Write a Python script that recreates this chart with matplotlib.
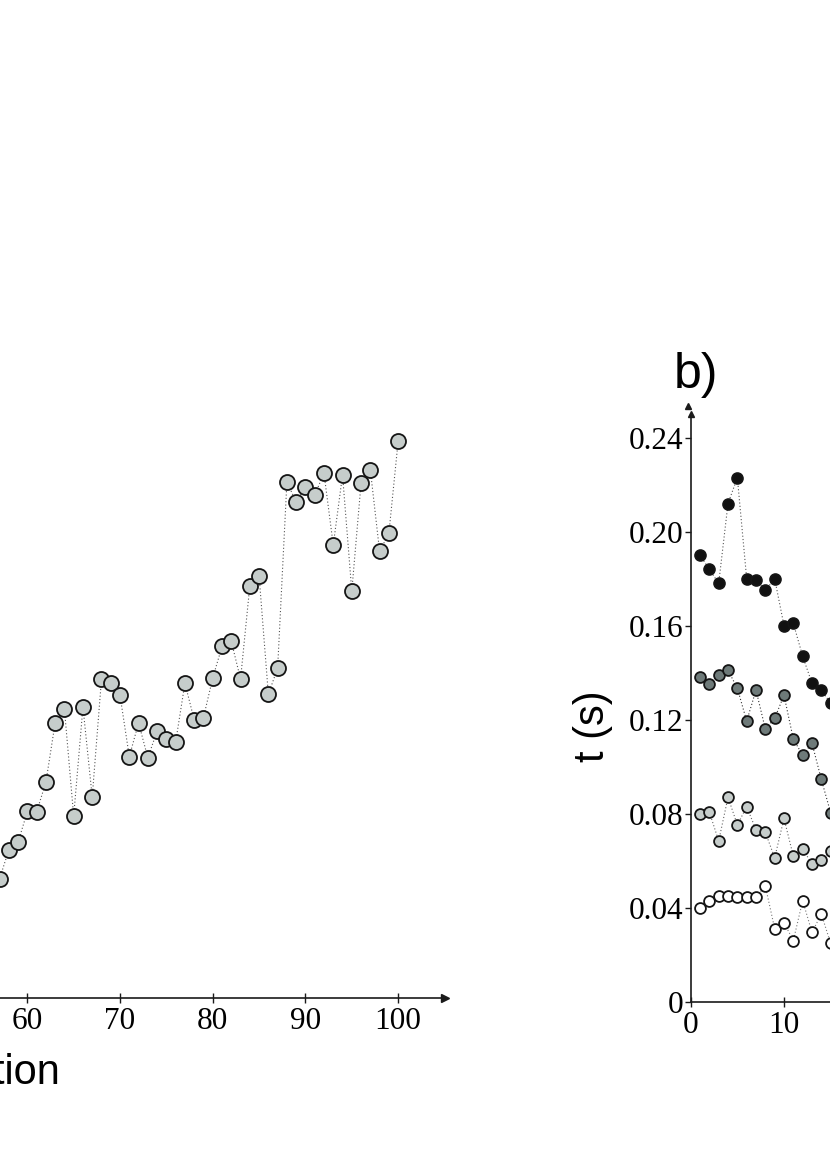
import matplotlib.pyplot as plt
import numpy as np

# left panel (only the right part is visible)
gen = list(range(57, 101))
fit = [0.204, 0.254, 0.267, 0.320, 0.319, 0.370, 0.472, 0.496, 0.312, 0.499,
       0.345, 0.547, 0.540, 0.519, 0.414, 0.472, 0.412, 0.458, 0.445, 0.439,
       0.540, 0.477, 0.481, 0.549, 0.603, 0.612, 0.547, 0.707, 0.724, 0.521,
       0.566, 0.885, 0.851, 0.876, 0.863, 0.900, 0.777, 0.897, 0.698, 0.883,
       0.906, 0.766, 0.797, 0.955]

# right panel b)
n = list(range(1, 16))
t_black = [0.190, 0.184, 0.178, 0.212, 0.223, 0.180, 0.1795, 0.175, 0.180, 0.160,
           0.161, 0.147, 0.1355, 0.1326, 0.127]
t_dark = [0.138, 0.135, 0.139, 0.141, 0.1334, 0.1194, 0.1326, 0.116, 0.1206, 0.1304,
          0.1117, 0.1049, 0.110, 0.0946, 0.0804]
t_light = [0.0799, 0.0807, 0.0684, 0.087, 0.0752, 0.083, 0.0731, 0.0721, 0.0612, 0.078,
           0.0619, 0.0651, 0.0585, 0.0602, 0.0641]
t_white = [0.0397, 0.0428, 0.045, 0.045, 0.0447, 0.0447, 0.0447, 0.0492, 0.0311, 0.0336,
           0.026, 0.043, 0.0295, 0.0373, 0.0248]

xticks = [0, 10, 20, 30, 40, 50, 60, 70, 80, 90, 100]
yticks_b = [0, 0.04, 0.08, 0.12, 0.16, 0.20, 0.24]
ytick_labels_b = ["0", "0.04", "0.08", "0.12", "0.16", "0.20", "0.24"]

W, H = 830, 1174
fig = plt.figure(figsize=(W / 100, H / 100), dpi=100)

serif = "Liberation Serif"
sans = "Liberation Sans"
edge = "#151515"

def style(ax):
    for s in ["top", "right"]:
        ax.spines[s].set_visible(False)
    for s in ["left", "bottom"]:
        ax.spines[s].set_linewidth(1.2)
        ax.spines[s].set_color("#1a1a1a")
    ax.tick_params(axis="x", direction="inout", length=7, width=1.0, pad=3,
                   labelsize=22.5, color="#1a1a1a")
    ax.tick_params(axis="y", direction="out", length=4, width=1.0, pad=1,
                   labelsize=22.5, color="#1a1a1a")
    for lab in ax.get_xticklabels() + ax.get_yticklabels():
        lab.set_fontfamily(serif)

# left axes (extends past the left edge of the crop)
axL = fig.add_axes([-528.9 / W, (H - 998) / H, 973.4 / W, 583 / H])
axL.plot(gen, fit, linestyle=(0, (1, 2)), color="#555555", linewidth=0.8, zorder=1)
axL.plot(gen, fit, linestyle="none", marker="o", markersize=10.8,
         markerfacecolor="#c6cdcb", markeredgecolor=edge, markeredgewidth=1.3, zorder=2)
axL.set_xlim(0, 105)
axL.set_ylim(0, 1)
axL.set_xticks(xticks)
axL.set_yticks([])
axL.spines["left"].set_visible(False)
style(axL)
axL.plot([1], [0], marker=">", markersize=6, color="#1a1a1a",
         transform=axL.transAxes, clip_on=False)
fig.text(61 / W, (H - 1073) / H, "Generation", ha="right", va="center",
         fontsize=30, family=sans)

# right axes (extends past the right edge)
axR = fig.add_axes([690.7 / W, (H - 1001.7) / H, 979.7 / W, 587.5 / H])
for ys, fc, lc in [(t_black, "#111111", "#555555"), (t_dark, "#6e7a79", "#333333"),
                   (t_light, "#c6cdcb", "#666666"), (t_white, "#ffffff", "#777777")]:
    axR.plot(n, ys, linestyle=(0, (1, 2)), color=lc, linewidth=0.8, zorder=1)
    axR.plot(n, ys, linestyle="none", marker="o", markersize=7.8,
             markerfacecolor=fc, markeredgecolor=edge, markeredgewidth=1.3, zorder=2)
axR.set_xlim(0, 105)
axR.set_ylim(0, 0.25)
axR.set_xticks(xticks)
axR.set_yticks(yticks_b)
axR.set_yticklabels(ytick_labels_b)
style(axR)
axR.plot([0], [1], marker="^", markersize=5, color="#1a1a1a",
         transform=axR.transAxes, clip_on=False)
axR.plot([-0.003], [1.014], marker="^", markersize=5, color="#1a1a1a",
         transform=axR.transAxes, clip_on=False)
fig.text(593 / W, (H - 726) / H, "t (s)", rotation=90, ha="center", va="center",
         fontsize=30, family=sans)
fig.text(696 / W, (H - 375) / H, "b)", ha="center", va="center",
         fontsize=36, family=sans)

fig.savefig("out.png", dpi=100)
